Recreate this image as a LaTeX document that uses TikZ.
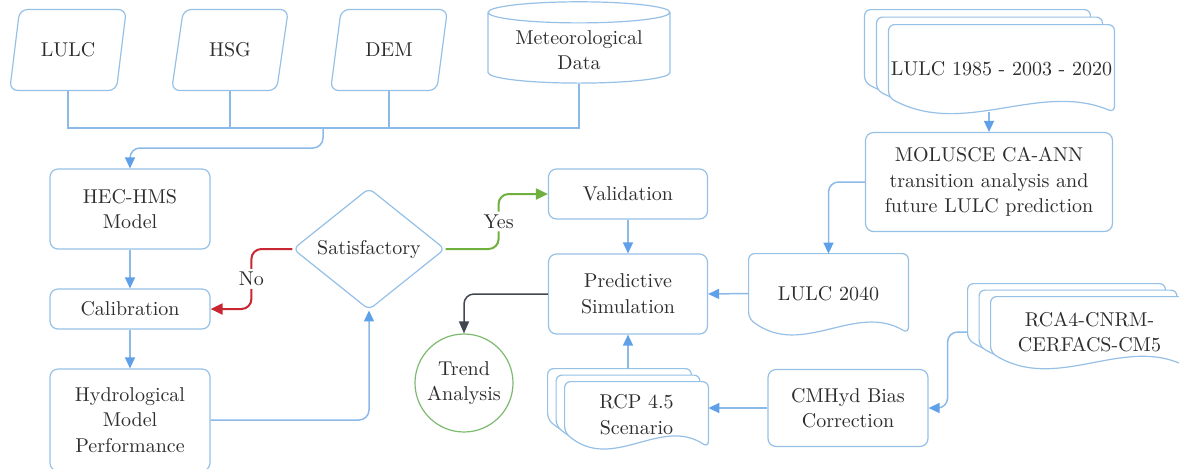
\documentclass[tikz,border=0pt]{standalone}
\usepackage{xcolor}
\usepackage{tikz}
\usetikzlibrary{shapes,arrows.meta,calc}
\definecolor{randblauw}{RGB}{150,192,230}
\definecolor{lijnblauw}{RGB}{140,186,232}
\definecolor{pijlblauw}{RGB}{96,160,232}
\definecolor{neerood}{RGB}{200,38,48}
\definecolor{jagroen}{RGB}{112,176,62}
\definecolor{donkergrijs}{RGB}{66,70,80}
\definecolor{cirkelgroen}{RGB}{125,186,112}
\definecolor{tekst}{RGB}{45,45,45}
\pgfdeclarelayer{achter}
\pgfsetlayers{achter,main}
\tikzstyle{block} = [rectangle, draw=randblauw, line width=0.6pt, align=center,
rounded corners=4pt, minimum width=80pt]
\tikzstyle{invoer} = [trapezium, trapezium left angle=76, trapezium right angle=104,
trapezium stretches=true, draw=randblauw, line width=0.6pt, rounded corners=4pt,
minimum width=58.5pt, minimum height=40.5pt]
\tikzstyle{opslag} = [cylinder, shape border rotate=90, aspect=0.15, draw=randblauw,
line width=0.6pt, minimum width=91pt, minimum height=40.5pt, align=center]
\tikzstyle{keuze} = [diamond, draw=randblauw, line width=0.6pt, rounded corners=3pt,
inner sep=0pt, minimum width=76pt, minimum height=57.5pt]
\tikzstyle{rondje} = [circle, draw=cirkelgroen, line width=0.6pt, minimum size=49pt,
inner sep=0pt, align=center]
\tikzstyle{blad} = [rectangle, align=center, inner sep=1pt]
\tikzstyle{randje} = [draw=randblauw, fill=white, line width=0.6pt, rounded corners=3pt]
\tikzstyle{bus} = [draw=lijnblauw, line width=0.75pt]
\tikzstyle{lijn} = [draw=lijnblauw, line width=0.75pt, rounded corners=5pt]
\tikzstyle{pijltje} = [lijn, -{Triangle[length=5.5pt, width=5pt, color=pijlblauw]}]
\tikzstyle{nee} = [draw=neerood, line width=1pt, rounded corners=5pt, -{Triangle[length=6pt, width=5.5pt]}]
\tikzstyle{ja} = [draw=jagroen, line width=1pt, rounded corners=5pt, -{Triangle[length=6pt, width=5.5pt]}]
\tikzstyle{grijs} = [draw=donkergrijs, line width=0.75pt, rounded corners=5pt, -{Triangle[length=6pt, width=5pt]}]
\tikzstyle{tekstje} = [fill=white, inner sep=1.5pt]
\newcommand{\bladrand}[1]{%
\draw[randje] (#1.north west) -- (#1.north east) -- (#1.south east)
.. controls ($(#1.south west)!0.667!(#1.south east)+(0,15.8pt)$)
and ($(#1.south west)!0.333!(#1.south east)+(0,-12.8pt)$)
.. ([yshift=7.5pt]#1.south west) -- cycle;}
\newcommand{\stapel}[3]{%
\begin{scope}[transform canvas={shift={(-2*#2,2*#3)}}]\bladrand{#1}\end{scope}
\begin{scope}[transform canvas={shift={(-#2,#3)}}]\bladrand{#1}\end{scope}
\bladrand{#1}}

\begin{document}
\begin{tikzpicture}[x=0.5pt, y=-0.5pt, font=\fontsize{10}{12.8}\selectfont, text=tekst]
	\useasboundingbox (0,0) rectangle (1179,468);
	
	\node [invoer] (lulc) at (68,50) {LULC};
	\node [invoer] (hsg) at (230,50) {HSG};
	\node [invoer] (dem) at (389,50) {DEM};
	\node [opslag] (meteo) at (579,50) {Meteorological\\ Data};
	
	
	\node [block, minimum height=40pt] (hechms) at (130,209) {HEC-HMS\\ Model};
	\node [block, below of=hechms, node distance=50pt, minimum height=20pt] (calibration) {Calibration};
	\node [block, below of=calibration, node distance=55.5pt, minimum height=51pt] (performance) {Hydrological\\ Model\\ Performance};
	
	\node [keuze] (satisfactory) at (369,249) {Satisfactory};
	
	\node [block, minimum width=79.5pt, minimum height=25pt] (validation) at (628,194) {Validation};
	\node [block, below of=validation, node distance=50pt, minimum width=79.5pt, minimum height=40pt] (prediction) {Predictive\\ Simulation};
	\node [rondje] (trend) at (464,383) {Trend\\ Analysis};
	
	
	\node [blad, minimum width=71.5pt, minimum height=32.5pt] (rcp) at (636.5,414.5) {RCP 4.5\\ Scenario};
	\node [blad, minimum width=79.5pt, minimum height=39.5pt] (lulcfuture) at (828.5,293.5) {LULC 2040};
	\node [block, minimum height=38.5pt] (cmhyd) at (848,408) {CMHyd Bias\\ Correction};
	\node [block, minimum width=123.5pt, minimum height=49.5pt] (molusce) at (989,182) {MOLUSCE CA-ANN\\ transition analysis and\\ future LULC prediction};
	\node [blad, minimum width=111.5pt, minimum height=43.5pt] (lulcpast) at (1001.5,68.5) {LULC 1985 - 2003 - 2020};
	\node [blad, minimum width=98.5pt, minimum height=35pt] (rca) at (1089.5,332) {RCA4-CNRM-\\ CERFACS-CM5};
	
	\begin{pgfonlayer}{achter}
	\stapel{lulcpast}{6pt}{3.75pt}
	\stapel{rca}{5.75pt}{3.25pt}
	\stapel{rcp}{4.25pt}{3.25pt}
	\bladrand{lulcfuture}
	\end{pgfonlayer}
	
	
	\coordinate (splitsing) at (323,128);
	\path [bus] (lulc.south) |- (splitsing);
	\path [bus] (hsg.south) -- (hsg.south |- splitsing);
	\path [bus] (dem.south) -- (dem.south |- splitsing);
	\path [bus] (meteo.south) |- (splitsing);
	\path [pijltje] (splitsing) -- ++(0,20) -| (hechms.north);
	
	
	\path [pijltje] (hechms)--(calibration);
	\path [pijltje] (calibration)--(performance);
	\path [pijltje] (performance.east) -| (satisfactory.south);
	\path [nee] (satisfactory.west) -- ++(-41,0) |- node [tekstje, pos=0.25] {No} (calibration.east);
	\path [ja] (satisfactory.east) -- ++(53,0) |- node [tekstje, pos=0.25] {Yes} (validation.west);
	
	
	\path [pijltje] (validation)--(prediction);
	\path [grijs] (prediction.west) -| (trend.north);
	\path [pijltje] (prediction.south |- rcp.north) ++(0,-13) -- (prediction.south);
	\path [pijltje] (lulcfuture.west)--(prediction.east);
	\path [pijltje] (cmhyd.west) -- (cmhyd.west -| rcp.east);
	
	
	\path [pijltje] (molusce.north |- lulcpast.south) -- (molusce.north);
	\path [pijltje] (molusce.west) -| (lulcfuture.north);
	\path [pijltje] ([xshift=-11.5pt]rca.west) -- ++(-20,0) |- (cmhyd.east);
\end{tikzpicture}
\end{document}
